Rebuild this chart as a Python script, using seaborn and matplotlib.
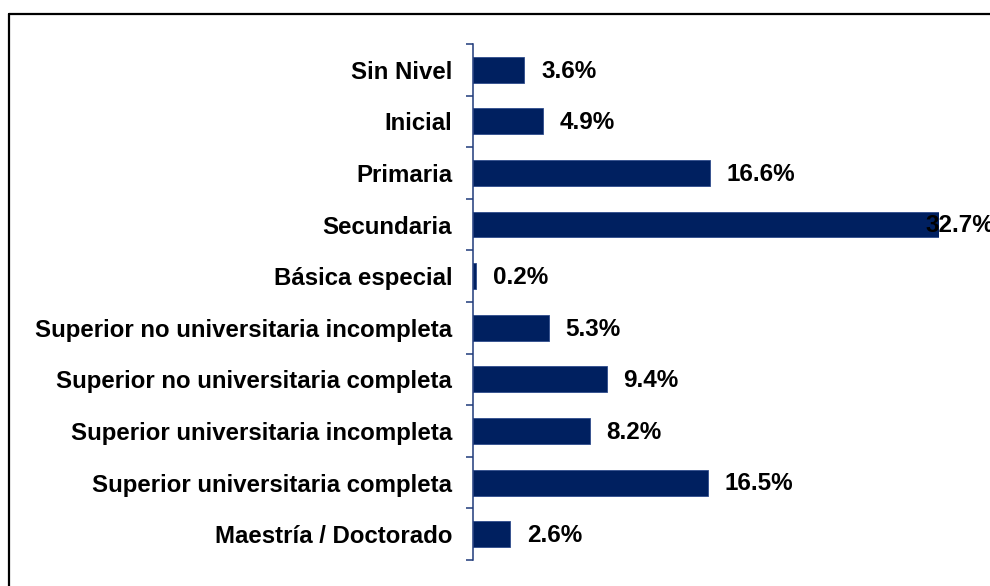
import matplotlib
matplotlib.use("Agg")
import matplotlib.pyplot as plt
from matplotlib.lines import Line2D
import pandas as pd
import seaborn as sns

categories = [
    "Sin Nivel",
    "Inicial",
    "Primaria",
    "Secundaria",
    "Básica especial",
    "Superior no universitaria incompleta",
    "Superior no universitaria completa",
    "Superior universitaria incompleta",
    "Superior universitaria completa",
    "Maestría / Doctorado",
]
values = [3.6, 4.9, 16.6, 32.7, 0.2, 5.3, 9.4, 8.2, 16.5, 2.6]
value_labels = ["3.6%", "4.9%", "16.6%", "32.7%", "0.2%", "5.3%", "9.4%", "8.2%", "16.5%", "2.6%"]

sns.set_style("white")
plt.rcParams["font.family"] = ["Liberation Sans", "DejaVu Sans"]

bar_color = "#002060"
axis_color = "#1F3A7A"

df = pd.DataFrame({"nivel": categories, "pct": values})

fig = plt.figure(figsize=(9.9, 5.86), dpi=100)
ax = fig.add_axes([473 / 990, 1 - 560 / 586, (939 - 473) / 990, (560 - 44) / 586])

sns.barplot(data=df, y="nivel", x="pct", orient="h", color=bar_color,
            width=0.5, edgecolor="#2E4C8C", linewidth=0.6, ax=ax, saturation=1)

ax.set_xlim(0, max(values))
ax.set_ylim(len(categories) - 0.5, -0.5)
ax.set_xlabel("")
ax.set_ylabel("")
ax.set_xticks([])

# etiquetas de categoria, sin marca
ax.set_yticks(range(len(categories)))
ax.set_yticklabels(categories, fontsize=17.3, fontweight="bold", color="black")
ax.tick_params(axis="y", which="major", left=True, length=0, pad=15)

# marcas entre categorias
ax.set_yticks([i - 0.5 for i in range(len(categories) + 1)], minor=True)
ax.tick_params(axis="y", which="minor", left=True, length=5, width=1.1,
               color=axis_color, direction="out")

for s in ["top", "right", "bottom"]:
    ax.spines[s].set_visible(False)
ax.spines["left"].set_color(axis_color)
ax.spines["left"].set_linewidth(1.1)

# valores junto a cada barra
vmax = max(values)
for i, (v, lab) in enumerate(zip(values, value_labels)):
    off = 12 if v < vmax else -9.5
    ax.annotate(lab, (v, i), xytext=(off, -1), textcoords="offset points",
                ha="left", va="center", fontsize=17.5, fontweight="bold",
                color="black", annotation_clip=False)

# marco del grafico (borde izquierdo y superior)
fig.add_artist(Line2D([9 / 990, 9 / 990], [0, 1 - 14 / 586], color="black", lw=1.6,
                      transform=fig.transFigure))
fig.add_artist(Line2D([9 / 990, 1], [1 - 14 / 586, 1 - 14 / 586], color="black", lw=1.6,
                      transform=fig.transFigure))

fig.savefig("out.png", dpi=100)
